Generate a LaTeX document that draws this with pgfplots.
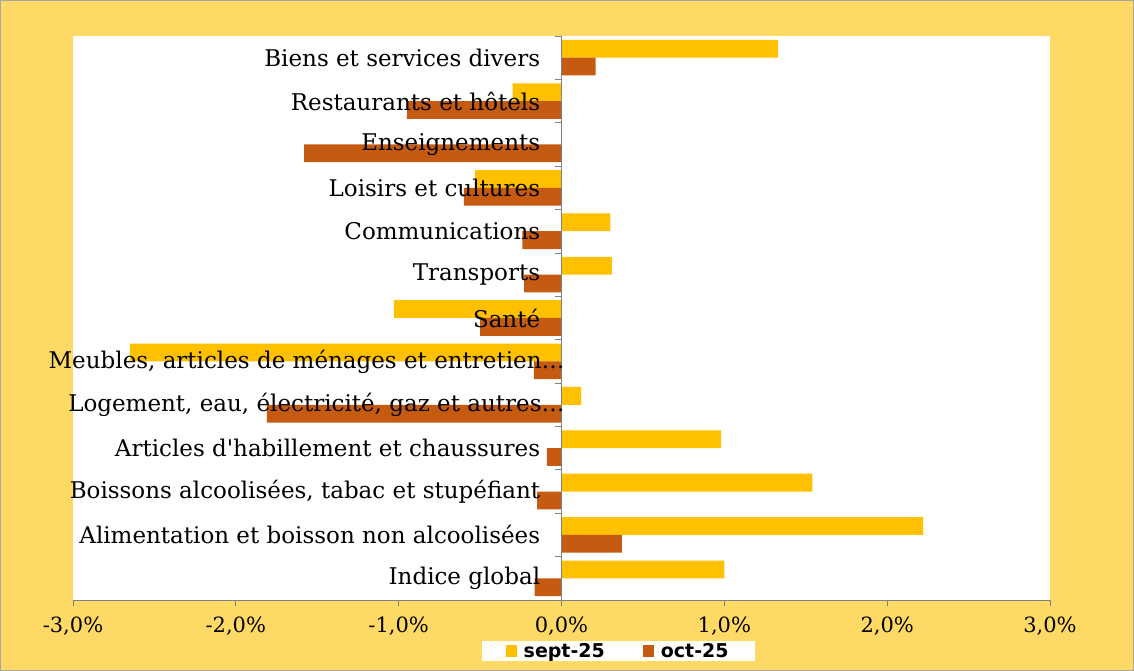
\documentclass[border=0pt]{standalone}
\usepackage{pgfplots}
\pgfplotsset{compat=1.18}
\usepackage{fontspec}
\setmainfont{DejaVu Serif}
\newfontfamily\legfont{DejaVu Sans}
\definecolor{bgyel}{HTML}{FFD966}
\definecolor{septc}{HTML}{FFC000}
\definecolor{octc}{HTML}{C55A11}
\newcommand{\catfont}{\fontsize{23}{27}\selectfont}
\begin{document}
\begin{tikzpicture}
\fill[bgyel] (0pt,0pt) rectangle (1134pt,671pt);
\draw[gray!70,line width=0.8pt] (0.4pt,0.4pt) rectangle (1133.6pt,670.6pt);
\begin{axis}[
  at={(73pt,71pt)}, anchor=south west,
  scale only axis, width=977pt, height=564pt,
  xmin=-3, xmax=3, ymin=-0.5, ymax=12.5,
  xbar, bar width=0.41,
  axis x line*=bottom, axis y line=none,
  xtick={-3,-2,-1,0,1,2,3},
  xticklabels={{-3,0\%},{-2,0\%},{-1,0\%},{0,0\%},{1,0\%},{2,0\%},{3,0\%}},
  xticklabel style={font=\fontsize{21}{25}\selectfont, yshift=-7pt},
  x axis line style={gray, line width=0.8pt},
  xtick style={gray, line width=0.8pt},
  tick align=outside, major tick length=6pt,
  ytick=\empty,
  axis background/.style={fill=white},
  clip=false,
  legend columns=2,
  legend style={at={(0.558,-0.0904)}, anchor=center, draw=none, fill=white,
    font=\legfont\bfseries\fontsize{19}{21}\selectfont,
    inner xsep=24pt, inner ysep=0pt,
    /tikz/every odd column/.append style={column sep=5pt},
    /tikz/every even column/.append style={column sep=36pt}},
  legend image code/.code={\fill[#1,draw=none] (0pt,-6pt) rectangle (11pt,6pt);},
]
\addplot[fill=septc, draw=none, bar shift=0.205] coordinates {
(1.00,0) (2.22,1) (1.54,2) (0.98,3) (0.12,4) (-2.65,5) (-1.03,6)
(0.31,7) (0.30,8) (-0.53,9) (0.00,10) (-0.30,11) (1.33,12)};
\addplot[fill=octc, draw=none, bar shift=-0.205] coordinates {
(-0.165,0) (0.37,1) (-0.15,2) (-0.09,3) (-1.81,4) (-0.17,5) (-0.50,6)
(-0.23,7) (-0.24,8) (-0.60,9) (-1.58,10) (-0.95,11) (0.21,12)};
\legend{sept-25, oct-25}
\draw[gray, line width=0.8pt] (axis cs:0,-0.5) -- (axis cs:0,12.5);
\pgfplotsinvokeforeach{-0.5,0.5,1.5,2.5,3.5,4.5,5.5,6.5,7.5,8.5,9.5,10.5,11.5,12.5}{
  \draw[gray, line width=0.8pt] (axis cs:0,#1) -- (axis cs:-0.038,#1);
}
\node[anchor=east, font=\catfont, inner sep=0pt] at (axis cs:-0.13,12) {Biens et services divers};
\node[anchor=east, font=\catfont, inner sep=0pt] at (axis cs:-0.13,11) {Restaurants et hôtels};
\node[anchor=east, font=\catfont, inner sep=0pt] at (axis cs:-0.13,10) {Enseignements};
\node[anchor=east, font=\catfont, inner sep=0pt] at (axis cs:-0.13,9) {Loisirs et cultures};
\node[anchor=east, font=\catfont, inner sep=0pt] at (axis cs:-0.13,8) {Communications};
\node[anchor=east, font=\catfont, inner sep=0pt] at (axis cs:-0.13,7) {Transports};
\node[anchor=east, font=\catfont, inner sep=0pt] at (axis cs:-0.13,6) {Santé};
\node[anchor=east, font=\catfont, inner sep=0pt] at (axis cs:0.02,5) {Meubles, articles de ménages et entretien…};
\node[anchor=east, font=\catfont, inner sep=0pt] at (axis cs:0.02,4) {Logement, eau, électricité, gaz et autres…};
\node[anchor=east, font=\catfont, inner sep=0pt] at (axis cs:-0.13,3) {Articles d\textquotesingle habillement et chaussures};
\node[anchor=east, font=\catfont, inner sep=0pt] at (axis cs:-0.13,2) {Boissons alcoolisées, tabac et stupéfiant};
\node[anchor=east, font=\catfont, inner sep=0pt] at (axis cs:-0.13,1) {Alimentation et boisson non alcoolisées};
\node[anchor=east, font=\catfont, inner sep=0pt] at (axis cs:-0.13,0) {Indice global};
\end{axis}
\end{tikzpicture}
\end{document}
